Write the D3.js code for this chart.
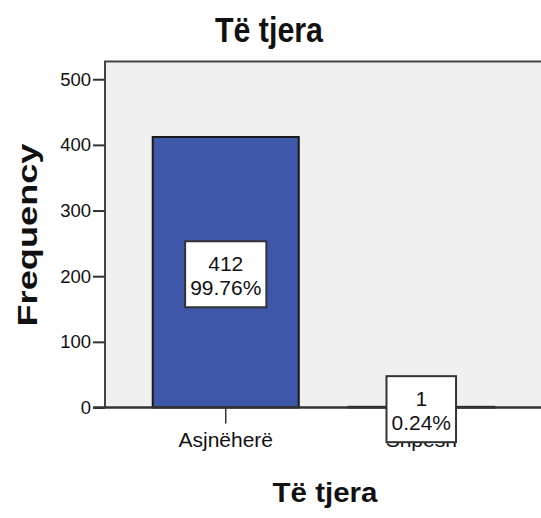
<!DOCTYPE html>
<html>
<head>
<meta charset="utf-8">
<script src="https://cdn.jsdelivr.net/npm/d3@7"></script>
<style>
  html, body { margin: 0; padding: 0; background: #fff; overflow: hidden; width: 541px; height: 518px; }
  svg { display: block; position: absolute; left: 0; top: 0; }
  text { font-family: 'Liberation Sans', Arial, sans-serif; fill: #111; }
</style>
</head>
<body>
<svg id="chart" width="541" height="518"></svg>
<script>
const categories = ['Asjnëherë', 'Shpesh'];
const counts = [412, 1];
const percents = ['99.76%', '0.24%'];
const yTicks = [0, 100, 200, 300, 400, 500];

document.addEventListener('DOMContentLoaded', () => {

  const svg = d3.select('#chart');

  const left = 105;
  const right = 542;
  const top = 61.5;
  const bottom = 407.5;

  const x = d3.scaleBand()
    .domain(categories)
    .range([left, right])
    .paddingInner(0.253)
    .paddingOuter(0.244);

  const y = d3.scaleLinear()
    .domain([0, 527])
    .range([bottom, top]);

  // plot frame: fill, then left/top edges only (the right edge sits off-canvas)
  svg.append('rect')
    .attr('x', left)
    .attr('y', top)
    .attr('width', right - left + 4)
    .attr('height', bottom - top)
    .attr('fill', '#f0f0f0');
  svg.append('path')
    .attr('d', `M${left},${bottom}V${top}H${right + 4}`)
    .attr('fill', 'none')
    .attr('stroke', '#444')
    .attr('stroke-width', 2);

  // bars
  svg.append('g')
    .selectAll('rect')
    .data(counts)
    .enter().append('rect')
      .attr('x', (d, i) => x(categories[i]))
      .attr('y', d => y(d))
      .attr('width', x.bandwidth())
      .attr('height', d => bottom - y(d))
      .attr('fill', '#3e57a9')
      .attr('stroke', '#1a1a1a')
      .attr('stroke-width', 2);

  // y axis
  const yAxis = svg.append('g')
    .attr('transform', `translate(${left},0)`)
    .call(d3.axisLeft(y).tickValues(yTicks).tickSize(12).tickPadding(2).tickFormat(d3.format('d')));
  yAxis.select('.domain').remove();
  yAxis.selectAll('line').attr('stroke', '#333').attr('stroke-width', 2);
  yAxis.selectAll('text')
    .style('font-family', "'Liberation Sans', Arial, sans-serif")
    .style('font-size', '18.5px')
    .attr('fill', '#111');

  // zero line
  svg.append('line')
    .attr('x1', left - 12)
    .attr('x2', right + 4)
    .attr('y1', bottom)
    .attr('y2', bottom)
    .attr('stroke', '#333')
    .attr('stroke-width', 2.5);

  // x axis ticks + labels
  const xg = svg.append('g')
    .selectAll('g')
    .data(categories)
    .enter().append('g')
      .attr('transform', d => `translate(${x(d) + x.bandwidth() / 2},0)`);
  xg.append('line')
    .attr('y1', bottom)
    .attr('y2', bottom + 16)
    .attr('stroke', '#333')
    .attr('stroke-width', 1.5);
  xg.append('text')
    .attr('y', 447)
    .attr('text-anchor', 'middle')
    .style('font-size', '21px')
    .text(d => d);

  // data labels (boxes sit on top of the category labels, as in the original)
  const lab = svg.append('g')
    .selectAll('g')
    .data(counts)
    .enter().append('g')
      .attr('transform', (d, i) => `translate(${x(categories[i]) + x.bandwidth() / 2},${y(d / 2) + 2})`);
  lab.append('rect')
    .attr('fill', '#fff')
    .attr('stroke', '#333')
    .attr('stroke-width', 2);
  lab.append('text')
    .attr('class', 'l1')
    .attr('y', -3)
    .attr('text-anchor', 'middle')
    .style('font-size', '21px')
    .text(d => d);
  lab.append('text')
    .attr('class', 'l2')
    .attr('y', 21)
    .attr('text-anchor', 'middle')
    .style('font-size', '21px')
    .text((d, i) => percents[i]);
  lab.each(function () {
    const g = d3.select(this);
    const w = Math.max(g.select('.l1').node().getComputedTextLength(),
      g.select('.l2').node().getComputedTextLength()) + 10;
    g.select('rect')
      .attr('x', -w / 2)
      .attr('y', -33)
      .attr('width', w)
      .attr('height', 66);
  });

  // titles
  svg.append('text')
    .attr('x', 269)
    .attr('y', 41.5)
    .attr('text-anchor', 'middle')
    .attr('textLength', 108)
    .attr('lengthAdjust', 'spacingAndGlyphs')
    .style('font-size', '35px')
    .style('font-weight', 'bold')
    .text('Të tjera');

  svg.append('text')
    .attr('x', 325)
    .attr('y', 502)
    .attr('text-anchor', 'middle')
    .attr('textLength', 105)
    .attr('lengthAdjust', 'spacingAndGlyphs')
    .style('font-size', '27px')
    .style('font-weight', 'bold')
    .text('Të tjera');

  svg.append('text')
    .attr('transform', 'translate(36.5,235) rotate(-90)')
    .attr('text-anchor', 'middle')
    .attr('textLength', 183)
    .attr('lengthAdjust', 'spacingAndGlyphs')
    .style('font-size', '28px')
    .style('font-weight', 'bold')
    .text('Frequency');

});
</script>
</body>
</html>
